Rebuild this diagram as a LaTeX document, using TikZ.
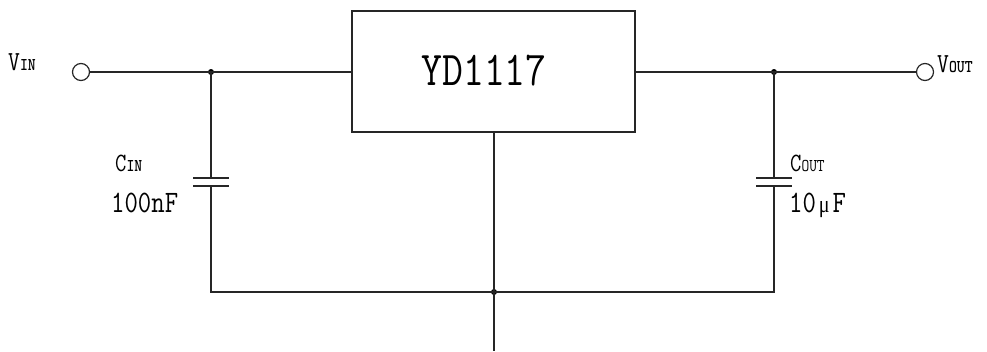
\documentclass[tikz,border=0pt]{standalone}
\usepackage{fontspec}
\newfontfamily\mufont{Liberation Serif}
\newcommand\tx[2]{\scalebox{1}[1.2]{\fontsize{#1}{#1}\selectfont\ttfamily #2}}
\newcommand\txb[2]{\scalebox{1}[1.2]{\fontsize{#1}{#1}\selectfont\ttfamily\bfseries #2}}
\begin{document}
\begin{tikzpicture}[x=1pt,y=-1pt,
  wire/.style={line width=1.6pt,draw=black!85},
  term/.style={circle,draw=black!85,line width=1.2pt,minimum size=17pt,inner sep=0pt},
  dot/.style={circle,fill=black,minimum size=6pt,inner sep=0pt},
  lbl/.style={inner sep=0pt,anchor=base west},
  chip/.style={draw=black!85,line width=1.6pt,minimum width=283pt,minimum height=121pt,inner sep=0pt}]
\useasboundingbox (0,0) rectangle (987,351);
\fill[white] (0,0) rectangle (987,351);
% chip
\node[chip] (ic) at (493.5,71.5) {};
\node[inner sep=0pt,anchor=base] (ictext) at (484,85) {\scalebox{1}[1.2]{\fontsize{40.5}{40.5}\selectfont\ttfamily YD1117}};
% terminals
\node[term] (vin) at (81,72) {};
\node[term] (vout) at (925,72) {};
% junctions
\node[dot] (jl) at (211,72) {};
\node[dot] (jr) at (774,72) {};
\node[dot] (jb) at (494,292) {};
\coordinate (bl) at (211,292);
\coordinate (br) at (774,292);
\coordinate (gnd) at (494,351);
\coordinate (icb) at (494,132);
% capacitor plates
\coordinate (cl1) at (211,178);
\coordinate (cl2) at (211,186);
\coordinate (cr1) at (774,178);
\coordinate (cr2) at (774,186);
% wires
\draw[wire] (vin.east) -- (jl.center) -- (ic.west |- jl);
\draw[wire] (ic.east |- jr) -- (jr.center) -- (vout.west);
\draw[wire] (jl.center) -- (cl1);
\draw[wire] ([xshift=-18pt]cl1) -- ([xshift=18pt]cl1);
\draw[wire] ([xshift=-18pt]cl2) -- ([xshift=18pt]cl2);
\draw[wire] (cl2) -- (bl) -- (jb.center) -- (br) -- (cr2);
\draw[wire] (jr.center) -- (cr1);
\draw[wire] ([xshift=-18pt]cr1) -- ([xshift=18pt]cr1);
\draw[wire] ([xshift=-18pt]cr2) -- ([xshift=18pt]cr2);
\draw[wire] (icb) -- (jb.center) -- (gnd);
% labels
\node[lbl] (lvin) at (8,70) {\tx{23}{V}\txb{15}{IN}};
\node[lbl] (lvout) at (937,72) {\tx{23}{V}\txb{15}{OUT}};
\node[lbl] (lcin) at (115,171) {\tx{22}{C}\txb{15}{IN}};
\node[lbl] (lcinv) at (111,212) {\tx{26}{100nF}};
\node[lbl] (lcout) at (790,171) {\tx{22}{C}\tx{15}{OUT}};
\node[lbl] (lcoutv) at (789,212) {\tx{26}{10\hspace{3pt}{\mufont\fontsize{20}{20}\selectfont μ}\hspace{3pt}F}};
\end{tikzpicture}
\end{document}
